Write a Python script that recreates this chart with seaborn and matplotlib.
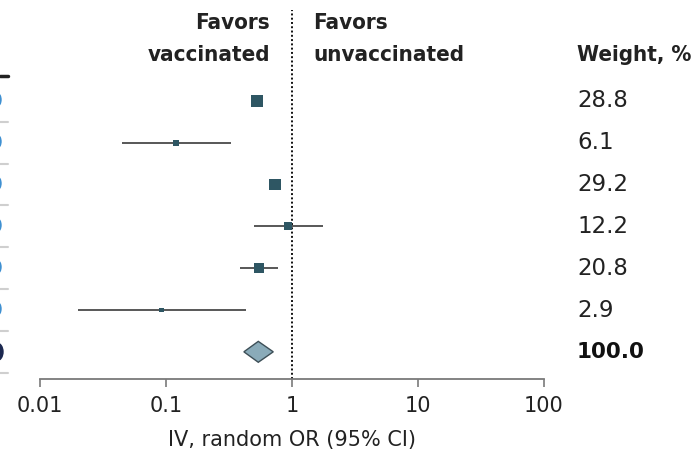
import numpy as np
import pandas as pd
import matplotlib
matplotlib.use("Agg")
import matplotlib.pyplot as plt
import matplotlib.transforms as mtransforms
from matplotlib.patches import Ellipse
import seaborn as sns

# ---- data ----
studies = ["Study 1", "Study 2", "Study 3", "Study 4", "Study 5", "Study 6"]
odds_ratio = [0.53, 0.12, 0.73, 0.93, 0.55, 0.092]
ci_low = [0.47, 0.045, 0.66, 0.50, 0.39, 0.020]
ci_high = [0.59, 0.33, 0.79, 1.75, 0.78, 0.43]
weights = [28.8, 6.1, 29.2, 12.2, 20.8, 2.9]
weight_labels = ["28.8", "6.1", "29.2", "12.2", "20.8", "2.9"]
pooled_or = 0.54
pooled_low = 0.415
pooled_high = 0.71
pooled_label = "100.0"
tick_values = [0.01, 0.1, 1, 10, 100]
tick_labels = ["0.01", "0.1", "1", "10", "100"]

sns.set_theme(style="white")
plt.rcParams["font.family"] = ["DejaVu Sans"]

W, H = 694, 455
fig = plt.figure(figsize=(W / 100, H / 100), dpi=100)
ax = fig.add_axes([40 / W, (H - 379) / H, (544 - 40) / W, (379 - 10) / H])

rows = np.arange(len(studies))
pooled_row = len(studies)
df = pd.DataFrame({"study": studies, "or": odds_ratio, "lo": ci_low,
                   "hi": ci_high, "weight": weights, "row": rows})

# CI lines
ax.hlines(df["row"], df["lo"], df["hi"], color="#3b3b3b", lw=1.2, zorder=2)
# squares
sns.scatterplot(data=df, x="or", y="row", size="weight", sizes=(10, 72),
                size_norm=(2.9, 29.2), marker="s", color="#2e5663",
                linewidth=0, legend=False, ax=ax, zorder=3)
# pooled diamond
hh = 0.25
ax.fill([pooled_low, pooled_or, pooled_high, pooled_or],
        [pooled_row, pooled_row - hh, pooled_row, pooled_row + hh],
        facecolor="#8aabb9", edgecolor="#3d4f57", lw=1.0, zorder=3)

# null line
ax.axvline(1, color="#111111", ls=(0, (1, 1.2)), lw=1.4, zorder=1)

ax.set_xscale("log")
ax.set_xlim(0.01, 100)
ax.set_ylim(6.65, -2.175)
ax.set_xticks(tick_values)
ax.set_xticklabels(tick_labels)
ax.xaxis.set_minor_locator(matplotlib.ticker.NullLocator())
ax.set_yticks([])
ax.set_ylabel("")
for s in ["top", "left", "right"]:
    ax.spines[s].set_visible(False)
ax.spines["bottom"].set_color("#7a7a7a")
ax.spines["bottom"].set_linewidth(1.3)
ax.tick_params(axis="x", direction="out", length=6, width=1.2, color="#7a7a7a",
               labelsize=15, labelcolor="#222222", pad=6, bottom=True)
ax.set_xlabel("IV, random OR (95% CI)", fontsize=15, color="#222222", labelpad=10)
ax.patch.set_alpha(0)

# header texts
def fy(py):
    return 1 - py / H

hdr = dict(fontsize=16, fontweight="bold", fontstretch="condensed",
           color="#222222", va="center")
fig.text(270 / W, fy(23), "Favors", ha="right", **hdr)
fig.text(270 / W, fy(55), "vaccinated", ha="right", **hdr)
fig.text(313 / W, fy(23), "Favors", ha="left", **hdr)
fig.text(313 / W, fy(55), "unvaccinated", ha="left", **hdr)
fig.text(577 / W, fy(55), "Weight, %", ha="left", **hdr)

# weight column
tr = mtransforms.blended_transform_factory(fig.transFigure, ax.transData)
for r, lab in zip(rows, weight_labels):
    ax.text(577 / W, r, lab, transform=tr, ha="left", va="center",
            fontsize=16.5, color="#222222", clip_on=False)
ax.text(577 / W, pooled_row, pooled_label, transform=tr, ha="left", va="center",
        fontsize=15.5, fontweight="bold", color="#111111", clip_on=False)

# left edge fragments of clipped table
ax.plot([0, 8 / W], [-0.6, -0.6], transform=tr, color="#222222", lw=2.5,
        clip_on=False)
for r in list(rows) + [pooled_row]:
    ax.plot([0, 8 / W], [r + 0.5, r + 0.5], transform=tr, color="#cfcfcf",
            lw=1.5, clip_on=False)
for r in rows:
    ax.add_patch(Ellipse((-2 / W, r - 0.03), 6 / W, 0.28, transform=tr,
                         color="#3d8fd1", clip_on=False))
ax.add_patch(Ellipse((-3 / W, pooled_row), 12 / W, 0.42, transform=tr,
                     color="#1c2850", clip_on=False))

fig.savefig("out.png", dpi=100)
